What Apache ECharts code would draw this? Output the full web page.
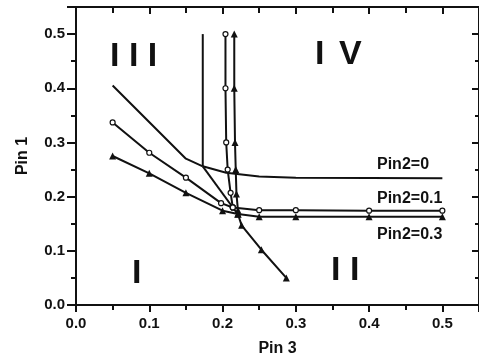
<!DOCTYPE html>
<html>
<head>
<meta charset="utf-8">
<script src="https://cdn.jsdelivr.net/npm/echarts@6/dist/echarts.min.js"></script>
<style>
html,body{margin:0;padding:0;background:#fff;}
#main{width:479px;height:358px;}
</style>
</head>
<body>
<div id="main"></div>
<script>
// ---- Data (Pin 3 = x, Pin 1 = y) ----
// Pin2 = 0 boundaries (no markers)
const pin2_0_vertical = [[0.173, 0.50], [0.173, 0.256]];
const pin2_0_left     = [[0.05, 0.405], [0.15, 0.27], [0.173, 0.256]];
const pin2_0_right    = [[0.173, 0.256], [0.205, 0.244], [0.25, 0.237], [0.30, 0.235], [0.50, 0.234]];
const pin2_0_diag     = [[0.173, 0.256], [0.221, 0.167]];

// Pin2 = 0.1 boundaries (open circles)
const pin2_01_vertical = [[0.204, 0.50], [0.204, 0.40], [0.205, 0.30], [0.207, 0.25], [0.211, 0.207], [0.214, 0.18]];
const pin2_01_left     = [[0.05, 0.337], [0.10, 0.281], [0.15, 0.235], [0.198, 0.188], [0.214, 0.18]];
const pin2_01_right    = [[0.214, 0.18], [0.25, 0.175], [0.30, 0.175], [0.40, 0.174], [0.50, 0.174]];

// Pin2 = 0.3 boundaries (filled triangles)
const pin2_03_vertical = [[0.216, 0.50], [0.216, 0.40], [0.217, 0.30], [0.218, 0.25], [0.219, 0.205], [0.221, 0.175]];
const pin2_03_left     = [[0.05, 0.275], [0.10, 0.243], [0.15, 0.207], [0.20, 0.174], [0.221, 0.168]];
const pin2_03_right    = [[0.221, 0.168], [0.25, 0.163], [0.30, 0.163], [0.40, 0.163], [0.50, 0.163]];
const pin2_03_diag     = [[0.221, 0.168], [0.226, 0.147], [0.253, 0.102], [0.287, 0.05]];

const seriesLabels = ['Pin2=0', 'Pin2=0.1', 'Pin2=0.3'];
const regionLabels = ['I I I', 'I', 'V', 'I', 'I I'];
const axisNames = {x: 'Pin 3', y: 'Pin 1'};

const FONT = 'Liberation Sans, Arial, Helvetica, sans-serif';
const INK = '#111';

function lineSeries(data, kind) {
  const s = {
    type: 'line', data: data, xAxisIndex: 0, yAxisIndex: 0,
    lineStyle: {color: INK, width: 2},
    itemStyle: {color: INK},
    silent: true, z: 3
  };
  if (kind === 'none') { s.symbol = 'none'; }
  else if (kind === 'circle') {
    s.symbol = 'circle'; s.symbolSize = 5; s.showSymbol = true;
    s.itemStyle = {color: '#fff', borderColor: INK, borderWidth: 1.2};
  } else {
    s.symbol = 'triangle'; s.symbolSize = 7; s.showSymbol = true;
    s.itemStyle = {color: INK};
  }
  return s;
}

const series = [
  lineSeries(pin2_0_vertical, 'none'),
  lineSeries(pin2_0_left, 'none'),
  lineSeries(pin2_0_right, 'none'),
  lineSeries(pin2_0_diag, 'none'),
  lineSeries(pin2_01_vertical, 'circle'),
  lineSeries(pin2_01_left, 'circle'),
  lineSeries(pin2_01_right, 'circle'),
  lineSeries(pin2_03_vertical, 'triangle'),
  lineSeries(pin2_03_left, 'triangle'),
  lineSeries(pin2_03_right, 'triangle'),
  lineSeries(pin2_03_diag, 'triangle')
];

const axisLine = {show: true, onZero: false, lineStyle: {color: INK, width: 2}};
const fmt = v => v.toFixed(1);

const chart = echarts.init(document.getElementById('main'), null, {renderer: 'canvas'});
chart.setOption({
  animation: false,
  backgroundColor: '#fff',
  grid: {left: 76, right: 0, top: 7, bottom: 53, containLabel: false, outerBoundsMode: 'none'},
  xAxis: [
    {
      type: 'value', min: 0, max: 0.55, interval: 0.1, position: 'bottom',
      name: axisNames.x, nameLocation: 'middle', nameGap: 36,
      nameTextStyle: {fontFamily: FONT, fontWeight: 'bold', fontSize: 16, color: INK},
      axisLine: axisLine,
      axisTick: {show: true, inside: false, length: 7, lineStyle: {color: INK, width: 2}},
      minorTick: {show: true, splitNumber: 2, length: 5, lineStyle: {color: INK, width: 2}},
      axisLabel: {formatter: fmt, showMaxLabel: false, margin: 11, fontFamily: FONT, fontWeight: 'bold', fontSize: 15, color: INK},
      splitLine: {show: false}
    },
    {
      type: 'value', min: 0, max: 0.55, interval: 0.1, position: 'top',
      axisLine: axisLine,
      axisTick: {show: true, inside: true, length: 7, lineStyle: {color: INK, width: 2}},
      minorTick: {show: true, splitNumber: 2, length: 6, lineStyle: {color: INK, width: 2}},
      axisLabel: {show: false}, splitLine: {show: false}
    }
  ],
  yAxis: [
    {
      type: 'value', min: 0, max: 0.55, interval: 0.1, position: 'left',
      name: axisNames.y, nameLocation: 'middle', nameGap: 45,
      nameTextStyle: {fontFamily: FONT, fontWeight: 'bold', fontSize: 16, color: INK},
      axisLine: axisLine,
      axisTick: {show: true, inside: false, length: 9, lineStyle: {color: INK, width: 2}},
      minorTick: {show: true, splitNumber: 2, length: 5, lineStyle: {color: INK, width: 2}},
      axisLabel: {formatter: fmt, showMaxLabel: false, margin: 11, fontFamily: FONT, fontWeight: 'bold', fontSize: 15, color: INK},
      splitLine: {show: false}
    },
    {
      type: 'value', min: 0, max: 0.55, interval: 0.1, position: 'right',
      axisLine: axisLine,
      axisTick: {show: true, inside: true, length: 7, lineStyle: {color: INK, width: 2}},
      minorTick: {show: true, splitNumber: 2, length: 4, lineStyle: {color: INK, width: 2}},
      axisLabel: {show: false}, splitLine: {show: false}
    }
  ],
  graphic: [
    {type: 'text', left: 110, top: 40, style: {text: regionLabels[0], font: 'bold 34px ' + FONT, fill: INK}},
    {type: 'text', left: 315, top: 38, style: {text: regionLabels[1], font: 'bold 34px ' + FONT, fill: INK}},
    {type: 'text', left: 339, top: 38, style: {text: regionLabels[2], font: 'bold 34px ' + FONT, fill: INK}},
    {type: 'text', left: 132, top: 257, style: {text: regionLabels[3], font: 'bold 34px ' + FONT, fill: INK}},
    {type: 'text', left: 331, top: 254, style: {text: regionLabels[4], font: 'bold 34px ' + FONT, fill: INK}},
    {type: 'text', left: 377, top: 157, style: {text: seriesLabels[0], font: 'bold 16px ' + FONT, fill: INK}},
    {type: 'text', left: 377, top: 191, style: {text: seriesLabels[1], font: 'bold 16px ' + FONT, fill: INK}},
    {type: 'text', left: 377, top: 227, style: {text: seriesLabels[2], font: 'bold 16px ' + FONT, fill: INK}}
  ],
  series: series
});
</script>
</body>
</html>
